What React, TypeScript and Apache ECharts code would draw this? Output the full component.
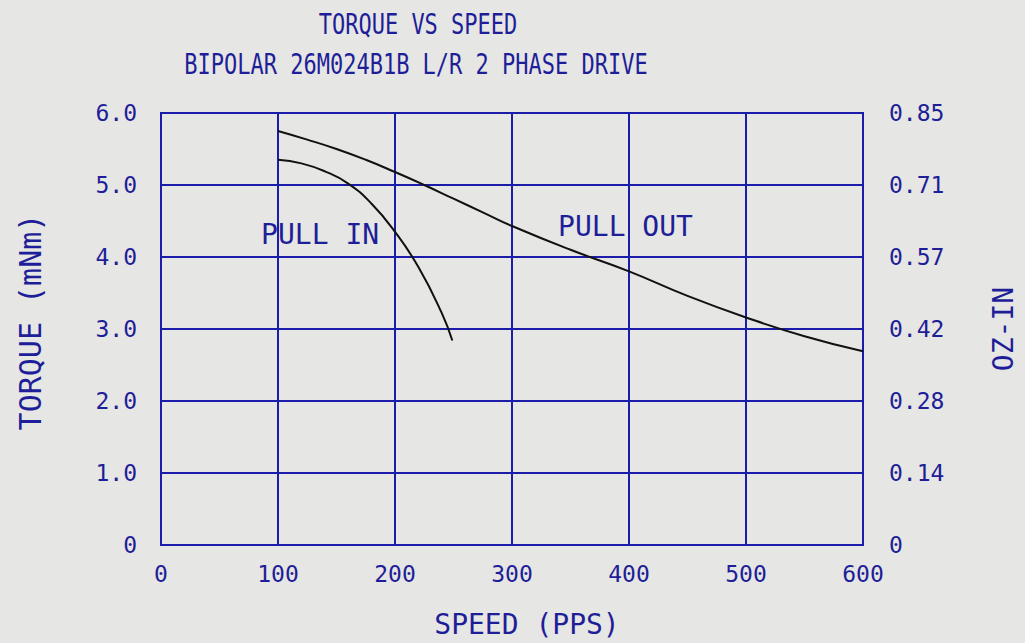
import React, { useEffect, useRef } from "react";
import * as echarts from "echarts";

const titleLines = ["TORQUE VS SPEED", "BIPOLAR 26M024B1B L/R 2 PHASE DRIVE"];
const xName = "SPEED (PPS)";
const yLeftName = "TORQUE (mNm)";
const yRightName = "OZ-IN";
const rightTickLabels = ["0", "0.14", "0.28", "0.42", "0.57", "0.71", "0.85"];

const pullInSpeed = [100, 120, 140, 160, 180, 200, 220, 240, 249];
const pullInTorque = [5.35, 5.3, 5.19, 5.02, 4.74, 4.35, 3.86, 3.22, 2.84];

const pullOutSpeed = [100, 125, 150, 175, 200, 225, 250, 275, 300, 350, 400, 450, 500, 550, 600];
const pullOutTorque = [5.75, 5.63, 5.5, 5.35, 5.18, 5.0, 4.81, 4.62, 4.43, 4.1, 3.8, 3.46, 3.16, 2.9, 2.69];

const curveLabels = ["PULL IN", "PULL OUT"];
const curveLabelSpeed = [136, 397];
const curveLabelTorque = [4.31, 4.43];

const BG = "#e6e6e4";
const GRID = "#1c1cab";
const TXT = "#1e1e98";
const FONT = "'DejaVu Sans Mono', monospace";

export default function App() {
  const ref = useRef<HTMLDivElement>(null);
  useEffect(() => {
    if (!ref.current) return;
    const chart = echarts.init(ref.current, undefined, { renderer: "svg" });
    const pullIn = pullInSpeed.map((s, i) => [s, pullInTorque[i]]);
    const pullOut = pullOutSpeed.map((s, i) => [s, pullOutTorque[i]]);
    const labels = curveLabels.map((t, i) => ({
      value: [curveLabelSpeed[i], curveLabelTorque[i]],
      name: t,
    }));
    chart.setOption({
      animation: false,
      backgroundColor: BG,
      textStyle: { fontFamily: FONT },
      graphic: [
        {
          type: "text",
          x: 418,
          y: 10,
          scaleY: 1.3,
          style: { text: titleLines[0], font: `22px ${FONT}`, fill: TXT, textAlign: "center" },
        },
        {
          type: "text",
          x: 416,
          y: 50,
          scaleY: 1.3,
          style: { text: titleLines[1], font: `22px ${FONT}`, fill: TXT, textAlign: "center" },
        },
      ],
      grid: {
        left: 161,
        right: 161,
        top: 113,
        bottom: 97,
        show: true,
        borderColor: GRID,
        borderWidth: 2,
        backgroundColor: "transparent",
      },
      xAxis: {
        type: "value",
        min: 0,
        max: 600,
        interval: 100,
        name: xName,
        nameLocation: "middle",
        nameGap: 65,
        nameTextStyle: { color: TXT, fontSize: 28, fontFamily: FONT, padding: [0, 0, 0, 30] },
        axisLine: { show: false },
        axisTick: { show: false },
        axisLabel: { color: TXT, fontSize: 23, fontFamily: FONT, margin: 17 },
        splitLine: { show: true, lineStyle: { color: GRID, width: 2 } },
      },
      yAxis: [
        {
          type: "value",
          min: 0,
          max: 6,
          interval: 1,
          position: "left",
          name: yLeftName,
          nameLocation: "middle",
          nameGap: 116,
          nameTextStyle: { color: TXT, fontSize: 30, fontFamily: FONT, padding: [0, 0, 0, 14] },
          axisLine: { show: false },
          axisTick: { show: false },
          axisLabel: {
            color: TXT,
            fontSize: 23,
            fontFamily: FONT,
            margin: 24,
            formatter: (v: number) => (v === 0 ? "0" : v.toFixed(1)),
          },
          splitLine: { show: true, lineStyle: { color: GRID, width: 2 } },
        },
        {
          type: "value",
          min: 0,
          max: 6,
          interval: 1,
          position: "right",
          name: yRightName,
          nameLocation: "middle",
          nameGap: 126,
          nameTextStyle: { color: TXT, fontSize: 28, fontFamily: FONT },
          axisLine: { show: false },
          axisTick: { show: false },
          axisLabel: {
            color: TXT,
            fontSize: 23,
            fontFamily: FONT,
            margin: 26,
            formatter: (v: number) => rightTickLabels[Math.round(v)],
          },
          splitLine: { show: false },
        },
      ],
      series: [
        {
          name: "PULL IN",
          type: "line",
          data: pullIn,
          smooth: 0.5,
          showSymbol: false,
          lineStyle: { color: "#111", width: 2 },
        },
        {
          name: "PULL OUT",
          type: "line",
          data: pullOut,
          smooth: 0.5,
          showSymbol: false,
          lineStyle: { color: "#111", width: 2 },
        },
        {
          type: "scatter",
          data: labels,
          symbolSize: 2,
          itemStyle: { color: "transparent", opacity: 1 },
          label: {
            show: true,
            position: "inside",
            formatter: (p: any) => p.name,
            color: TXT,
            fontSize: 28,
            fontFamily: FONT,
          },
          labelLayout: { hideOverlap: false },
          z: 10,
        },
      ],
    });
    return () => chart.dispose();
  }, []);
  return (
    <div
      ref={ref}
      style={{ position: "fixed", left: 0, top: 0, width: 1025, height: 643 }}
    />
  );
}
